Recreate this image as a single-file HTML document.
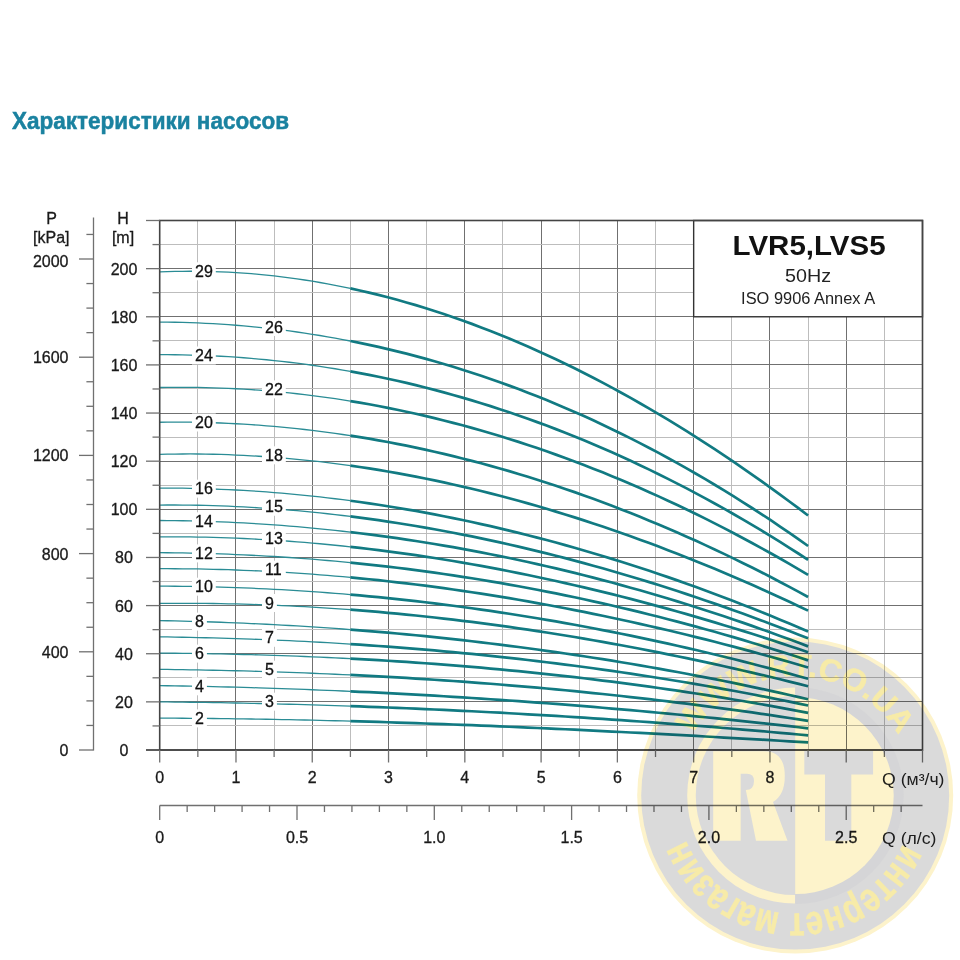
<!DOCTYPE html><html><head><meta charset="utf-8"><style>html,body{margin:0;padding:0;background:#fff;width:960px;height:960px;overflow:hidden}svg{display:block}text{font-family:"Liberation Sans",sans-serif}</style></head><body>
<svg width="960" height="960" viewBox="0 0 960 960">
<rect width="960" height="960" fill="#fff"/>
<text x="12" y="129" font-size="24" font-weight="bold" fill="#1a82a0" stroke="#1a82a0" stroke-width="0.5" textLength="277" lengthAdjust="spacingAndGlyphs">Характеристики насосов</text>
<line x1="197.50" y1="220.50" x2="197.50" y2="750.00" stroke="#bdbdbd" stroke-width="1"/><line x1="235.50" y1="220.50" x2="235.50" y2="750.00" stroke="#707070" stroke-width="1"/><line x1="274.50" y1="220.50" x2="274.50" y2="750.00" stroke="#bdbdbd" stroke-width="1"/><line x1="312.50" y1="220.50" x2="312.50" y2="750.00" stroke="#707070" stroke-width="1"/><line x1="350.50" y1="220.50" x2="350.50" y2="750.00" stroke="#bdbdbd" stroke-width="1"/><line x1="388.50" y1="220.50" x2="388.50" y2="750.00" stroke="#707070" stroke-width="1"/><line x1="426.50" y1="220.50" x2="426.50" y2="750.00" stroke="#bdbdbd" stroke-width="1"/><line x1="464.50" y1="220.50" x2="464.50" y2="750.00" stroke="#707070" stroke-width="1"/><line x1="502.50" y1="220.50" x2="502.50" y2="750.00" stroke="#bdbdbd" stroke-width="1"/><line x1="541.50" y1="220.50" x2="541.50" y2="750.00" stroke="#707070" stroke-width="1"/><line x1="579.50" y1="220.50" x2="579.50" y2="750.00" stroke="#bdbdbd" stroke-width="1"/><line x1="617.50" y1="220.50" x2="617.50" y2="750.00" stroke="#707070" stroke-width="1"/><line x1="655.50" y1="220.50" x2="655.50" y2="750.00" stroke="#bdbdbd" stroke-width="1"/><line x1="693.50" y1="220.50" x2="693.50" y2="750.00" stroke="#707070" stroke-width="1"/><line x1="731.50" y1="220.50" x2="731.50" y2="750.00" stroke="#bdbdbd" stroke-width="1"/><line x1="769.50" y1="220.50" x2="769.50" y2="750.00" stroke="#707070" stroke-width="1"/><line x1="808.50" y1="220.50" x2="808.50" y2="750.00" stroke="#bdbdbd" stroke-width="1"/><line x1="846.50" y1="220.50" x2="846.50" y2="750.00" stroke="#707070" stroke-width="1"/><line x1="884.50" y1="220.50" x2="884.50" y2="750.00" stroke="#bdbdbd" stroke-width="1"/><line x1="159.70" y1="725.50" x2="922.50" y2="725.50" stroke="#bdbdbd" stroke-width="1"/><line x1="159.70" y1="701.50" x2="922.50" y2="701.50" stroke="#707070" stroke-width="1"/><line x1="159.70" y1="677.50" x2="922.50" y2="677.50" stroke="#bdbdbd" stroke-width="1"/><line x1="159.70" y1="653.50" x2="922.50" y2="653.50" stroke="#707070" stroke-width="1"/><line x1="159.70" y1="629.50" x2="922.50" y2="629.50" stroke="#bdbdbd" stroke-width="1"/><line x1="159.70" y1="605.50" x2="922.50" y2="605.50" stroke="#707070" stroke-width="1"/><line x1="159.70" y1="581.50" x2="922.50" y2="581.50" stroke="#bdbdbd" stroke-width="1"/><line x1="159.70" y1="557.50" x2="922.50" y2="557.50" stroke="#707070" stroke-width="1"/><line x1="159.70" y1="533.50" x2="922.50" y2="533.50" stroke="#bdbdbd" stroke-width="1"/><line x1="159.70" y1="509.50" x2="922.50" y2="509.50" stroke="#707070" stroke-width="1"/><line x1="159.70" y1="485.50" x2="922.50" y2="485.50" stroke="#bdbdbd" stroke-width="1"/><line x1="159.70" y1="461.50" x2="922.50" y2="461.50" stroke="#707070" stroke-width="1"/><line x1="159.70" y1="437.50" x2="922.50" y2="437.50" stroke="#bdbdbd" stroke-width="1"/><line x1="159.70" y1="413.50" x2="922.50" y2="413.50" stroke="#707070" stroke-width="1"/><line x1="159.70" y1="388.50" x2="922.50" y2="388.50" stroke="#bdbdbd" stroke-width="1"/><line x1="159.70" y1="364.50" x2="922.50" y2="364.50" stroke="#707070" stroke-width="1"/><line x1="159.70" y1="340.50" x2="922.50" y2="340.50" stroke="#bdbdbd" stroke-width="1"/><line x1="159.70" y1="316.50" x2="922.50" y2="316.50" stroke="#707070" stroke-width="1"/><line x1="159.70" y1="292.50" x2="922.50" y2="292.50" stroke="#bdbdbd" stroke-width="1"/><line x1="159.70" y1="268.50" x2="922.50" y2="268.50" stroke="#707070" stroke-width="1"/><line x1="159.70" y1="244.50" x2="922.50" y2="244.50" stroke="#bdbdbd" stroke-width="1"/>
<rect x="693.66" y="220.50" width="228.84" height="96.27" fill="#fff" stroke="#333" stroke-width="1.4"/>
<text x="809.1" y="255" font-size="28" font-weight="bold" fill="#111" text-anchor="middle" textLength="153" lengthAdjust="spacingAndGlyphs">LVR5,LVS5</text>
<text x="808.1" y="282.3" font-size="18" fill="#222" text-anchor="middle" textLength="46" lengthAdjust="spacingAndGlyphs">50Hz</text>
<text x="808.1" y="304.3" font-size="16" fill="#222" text-anchor="middle" textLength="134" lengthAdjust="spacingAndGlyphs">ISO 9906 Annex A</text>
<path d="M159.70,271.94 L167.33,271.64 L174.96,271.43 L182.58,271.29 L190.21,271.24 L197.84,271.27 L205.47,271.38 L213.10,271.56 L220.72,271.83 L228.35,272.18 L235.98,272.61 L243.61,273.11 L251.24,273.70 L258.86,274.36 L266.49,275.11 L274.12,275.93 L281.75,276.83 L289.38,277.81 L297.00,278.86 L304.63,279.99 L312.26,281.20 L319.89,282.49 L327.52,283.86 L335.14,285.30 L342.77,286.82 L350.40,288.41" fill="none" stroke="#2a8c95" stroke-width="1.3"/><path d="M350.40,288.41 L359.74,290.47 L369.08,292.64 L378.42,294.92 L387.76,297.31 L397.10,299.82 L406.44,302.44 L415.78,305.17 L425.12,308.02 L434.46,310.97 L443.80,314.03 L453.14,317.21 L462.48,320.49 L471.83,323.89 L481.17,327.39 L490.51,331.00 L499.85,334.72 L509.19,338.55 L518.53,342.48 L527.87,346.52 L537.21,350.67 L546.55,354.92 L555.89,359.28 L565.23,363.75 L574.57,368.32 L583.91,372.99 L593.25,377.77 L602.59,382.65 L611.93,387.64 L621.27,392.73 L630.61,397.92 L639.95,403.21 L649.29,408.61 L658.63,414.10 L667.97,419.70 L677.31,425.40 L686.65,431.20 L696.00,437.09 L705.34,443.09 L714.68,449.19 L724.02,455.38 L733.36,461.68 L742.70,468.07 L752.04,474.55 L761.38,481.14 L770.72,487.82 L780.06,494.60 L789.40,501.47 L798.74,508.44 L808.08,515.51" fill="none" stroke="#117a82" stroke-width="2.7"/><path d="M159.70,322.04 L167.33,322.11 L174.96,322.23 L182.58,322.40 L190.21,322.64 L197.84,322.93 L205.47,323.28 L213.10,323.68 L220.72,324.15 L228.35,324.67 L235.98,325.25 L243.61,325.89 L251.24,326.58 L258.86,327.34 L266.49,328.15 L274.12,329.02 L281.75,329.95 L289.38,330.94 L297.00,331.99 L304.63,333.10 L312.26,334.27 L319.89,335.50 L327.52,336.79 L335.14,338.14 L342.77,339.54 L350.40,341.01" fill="none" stroke="#2a8c95" stroke-width="1.3"/><path d="M350.40,341.01 L359.74,342.89 L369.08,344.87 L378.42,346.93 L387.76,349.09 L397.10,351.34 L406.44,353.68 L415.78,356.11 L425.12,358.64 L434.46,361.26 L443.80,363.97 L453.14,366.78 L462.48,369.68 L471.83,372.67 L481.17,375.76 L490.51,378.95 L499.85,382.23 L509.19,385.61 L518.53,389.08 L527.87,392.65 L537.21,396.31 L546.55,400.08 L555.89,403.94 L565.23,407.89 L574.57,411.95 L583.91,416.10 L593.25,420.35 L602.59,424.71 L611.93,429.16 L621.27,433.70 L630.61,438.35 L639.95,443.10 L649.29,447.95 L658.63,452.90 L667.97,457.95 L677.31,463.10 L686.65,468.35 L696.00,473.71 L705.34,479.17 L714.68,484.72 L724.02,490.39 L733.36,496.15 L742.70,502.02 L752.04,507.99 L761.38,514.07 L770.72,520.24 L780.06,526.53 L789.40,532.92 L798.74,539.41 L808.08,546.01" fill="none" stroke="#117a82" stroke-width="2.7"/><path d="M159.70,354.67 L167.33,354.68 L174.96,354.75 L182.58,354.86 L190.21,355.04 L197.84,355.26 L205.47,355.54 L213.10,355.88 L220.72,356.27 L228.35,356.71 L235.98,357.21 L243.61,357.77 L251.24,358.38 L258.86,359.04 L266.49,359.76 L274.12,360.54 L281.75,361.37 L289.38,362.26 L297.00,363.20 L304.63,364.20 L312.26,365.25 L319.89,366.36 L327.52,367.53 L335.14,368.75 L342.77,370.03 L350.40,371.37" fill="none" stroke="#2a8c95" stroke-width="1.3"/><path d="M350.40,371.37 L359.74,373.08 L369.08,374.88 L378.42,376.77 L387.76,378.74 L397.10,380.80 L406.44,382.94 L415.78,385.17 L425.12,387.48 L434.46,389.89 L443.80,392.38 L453.14,394.95 L462.48,397.62 L471.83,400.37 L481.17,403.21 L490.51,406.14 L499.85,409.16 L509.19,412.26 L518.53,415.46 L527.87,418.74 L537.21,422.12 L546.55,425.58 L555.89,429.13 L565.23,432.78 L574.57,436.51 L583.91,440.33 L593.25,444.25 L602.59,448.25 L611.93,452.35 L621.27,456.53 L630.61,460.81 L639.95,465.18 L649.29,469.65 L658.63,474.20 L667.97,478.85 L677.31,483.59 L686.65,488.42 L696.00,493.35 L705.34,498.37 L714.68,503.48 L724.02,508.69 L733.36,513.99 L742.70,519.38 L752.04,524.87 L761.38,530.46 L770.72,536.13 L780.06,541.91 L789.40,547.78 L798.74,553.74 L808.08,559.80" fill="none" stroke="#117a82" stroke-width="2.7"/><path d="M159.70,387.51 L167.33,387.38 L174.96,387.31 L182.58,387.29 L190.21,387.33 L197.84,387.43 L205.47,387.58 L213.10,387.79 L220.72,388.05 L228.35,388.37 L235.98,388.75 L243.61,389.18 L251.24,389.67 L258.86,390.21 L266.49,390.81 L274.12,391.47 L281.75,392.18 L289.38,392.95 L297.00,393.77 L304.63,394.65 L312.26,395.58 L319.89,396.57 L327.52,397.62 L335.14,398.72 L342.77,399.88 L350.40,401.09" fill="none" stroke="#2a8c95" stroke-width="1.3"/><path d="M350.40,401.09 L359.74,402.65 L369.08,404.29 L378.42,406.02 L387.76,407.83 L397.10,409.72 L406.44,411.70 L415.78,413.76 L425.12,415.90 L434.46,418.13 L443.80,420.44 L453.14,422.83 L462.48,425.30 L471.83,427.86 L481.17,430.50 L490.51,433.23 L499.85,436.03 L509.19,438.92 L518.53,441.89 L527.87,444.95 L537.21,448.09 L546.55,451.31 L555.89,454.61 L565.23,457.99 L574.57,461.46 L583.91,465.01 L593.25,468.64 L602.59,472.36 L611.93,476.15 L621.27,480.03 L630.61,484.00 L639.95,488.04 L649.29,492.17 L658.63,496.37 L667.97,500.67 L677.31,505.04 L686.65,509.49 L696.00,514.03 L705.34,518.65 L714.68,523.35 L724.02,528.13 L733.36,533.00 L742.70,537.94 L752.04,542.97 L761.38,548.08 L770.72,553.27 L780.06,558.55 L789.40,563.90 L798.74,569.34 L808.08,574.86" fill="none" stroke="#117a82" stroke-width="2.7"/><path d="M159.70,422.23 L167.33,422.15 L174.96,422.12 L182.58,422.14 L190.21,422.21 L197.84,422.34 L205.47,422.51 L213.10,422.74 L220.72,423.02 L228.35,423.35 L235.98,423.73 L243.61,424.17 L251.24,424.65 L258.86,425.19 L266.49,425.78 L274.12,426.42 L281.75,427.11 L289.38,427.86 L297.00,428.65 L304.63,429.50 L312.26,430.39 L319.89,431.34 L327.52,432.34 L335.14,433.39 L342.77,434.49 L350.40,435.64" fill="none" stroke="#2a8c95" stroke-width="1.3"/><path d="M350.40,435.64 L359.74,437.12 L369.08,438.68 L378.42,440.31 L387.76,442.02 L397.10,443.81 L406.44,445.67 L415.78,447.61 L425.12,449.62 L434.46,451.72 L443.80,453.88 L453.14,456.12 L462.48,458.44 L471.83,460.84 L481.17,463.31 L490.51,465.85 L499.85,468.47 L509.19,471.17 L518.53,473.94 L527.87,476.79 L537.21,479.71 L546.55,482.71 L555.89,485.78 L565.23,488.93 L574.57,492.15 L583.91,495.45 L593.25,498.82 L602.59,502.27 L611.93,505.79 L621.27,509.39 L630.61,513.06 L639.95,516.81 L649.29,520.63 L658.63,524.53 L667.97,528.50 L677.31,532.54 L686.65,536.66 L696.00,540.85 L705.34,545.12 L714.68,549.46 L724.02,553.88 L733.36,558.37 L742.70,562.93 L752.04,567.57 L761.38,572.28 L770.72,577.07 L780.06,581.93 L789.40,586.86 L798.74,591.87 L808.08,596.95" fill="none" stroke="#117a82" stroke-width="2.7"/><path d="M159.70,454.31 L167.33,454.15 L174.96,454.04 L182.58,453.98 L190.21,453.97 L197.84,454.02 L205.47,454.12 L213.10,454.27 L220.72,454.47 L228.35,454.72 L235.98,455.03 L243.61,455.38 L251.24,455.79 L258.86,456.25 L266.49,456.76 L274.12,457.32 L281.75,457.93 L289.38,458.58 L297.00,459.29 L304.63,460.05 L312.26,460.86 L319.89,461.72 L327.52,462.62 L335.14,463.58 L342.77,464.58 L350.40,465.64" fill="none" stroke="#2a8c95" stroke-width="1.3"/><path d="M350.40,465.64 L359.74,466.99 L369.08,468.42 L378.42,469.92 L387.76,471.49 L397.10,473.13 L406.44,474.84 L415.78,476.63 L425.12,478.48 L434.46,480.40 L443.80,482.40 L453.14,484.46 L462.48,486.59 L471.83,488.79 L481.17,491.05 L490.51,493.39 L499.85,495.79 L509.19,498.26 L518.53,500.79 L527.87,503.40 L537.21,506.06 L546.55,508.80 L555.89,511.60 L565.23,514.46 L574.57,517.39 L583.91,520.38 L593.25,523.44 L602.59,526.56 L611.93,529.74 L621.27,532.99 L630.61,536.30 L639.95,539.67 L649.29,543.10 L658.63,546.60 L667.97,550.16 L677.31,553.77 L686.65,557.45 L696.00,561.19 L705.34,564.99 L714.68,568.84 L724.02,572.76 L733.36,576.74 L742.70,580.77 L752.04,584.86 L761.38,589.01 L770.72,593.22 L780.06,597.49 L789.40,601.81 L798.74,606.18 L808.08,610.62" fill="none" stroke="#117a82" stroke-width="2.7"/><path d="M159.70,488.03 L167.33,488.04 L174.96,488.09 L182.58,488.18 L190.21,488.32 L197.84,488.50 L205.47,488.72 L213.10,488.98 L220.72,489.28 L228.35,489.62 L235.98,490.01 L243.61,490.44 L251.24,490.90 L258.86,491.41 L266.49,491.97 L274.12,492.56 L281.75,493.19 L289.38,493.87 L297.00,494.58 L304.63,495.34 L312.26,496.14 L319.89,496.97 L327.52,497.85 L335.14,498.77 L342.77,499.73 L350.40,500.73" fill="none" stroke="#2a8c95" stroke-width="1.3"/><path d="M350.40,500.73 L359.74,502.01 L369.08,503.35 L378.42,504.75 L387.76,506.21 L397.10,507.73 L406.44,509.31 L415.78,510.95 L425.12,512.64 L434.46,514.40 L443.80,516.22 L453.14,518.09 L462.48,520.03 L471.83,522.02 L481.17,524.07 L490.51,526.18 L499.85,528.35 L509.19,530.57 L518.53,532.86 L527.87,535.20 L537.21,537.60 L546.55,540.05 L555.89,542.57 L565.23,545.14 L574.57,547.76 L583.91,550.45 L593.25,553.19 L602.59,555.99 L611.93,558.84 L621.27,561.75 L630.61,564.72 L639.95,567.74 L649.29,570.82 L658.63,573.96 L667.97,577.15 L677.31,580.39 L686.65,583.69 L696.00,587.05 L705.34,590.46 L714.68,593.92 L724.02,597.44 L733.36,601.01 L742.70,604.64 L752.04,608.33 L761.38,612.06 L770.72,615.85 L780.06,619.70 L789.40,623.59 L798.74,627.55 L808.08,631.55" fill="none" stroke="#117a82" stroke-width="2.7"/><path d="M159.70,505.03 L167.33,505.00 L174.96,505.00 L182.58,505.05 L190.21,505.14 L197.84,505.27 L205.47,505.44 L213.10,505.66 L220.72,505.91 L228.35,506.21 L235.98,506.54 L243.61,506.92 L251.24,507.34 L258.86,507.80 L266.49,508.30 L274.12,508.84 L281.75,509.42 L289.38,510.04 L297.00,510.70 L304.63,511.40 L312.26,512.14 L319.89,512.92 L327.52,513.74 L335.14,514.60 L342.77,515.49 L350.40,516.43" fill="none" stroke="#2a8c95" stroke-width="1.3"/><path d="M350.40,516.43 L359.74,517.63 L369.08,518.88 L378.42,520.20 L387.76,521.57 L397.10,523.00 L406.44,524.48 L415.78,526.02 L425.12,527.62 L434.46,529.27 L443.80,530.98 L453.14,532.75 L462.48,534.57 L471.83,536.44 L481.17,538.37 L490.51,540.36 L499.85,542.39 L509.19,544.49 L518.53,546.63 L527.87,548.83 L537.21,551.08 L546.55,553.39 L555.89,555.75 L565.23,558.16 L574.57,560.62 L583.91,563.13 L593.25,565.70 L602.59,568.32 L611.93,570.98 L621.27,573.70 L630.61,576.47 L639.95,579.29 L649.29,582.16 L658.63,585.08 L667.97,588.05 L677.31,591.07 L686.65,594.14 L696.00,597.25 L705.34,600.42 L714.68,603.63 L724.02,606.89 L733.36,610.20 L742.70,613.55 L752.04,616.96 L761.38,620.41 L770.72,623.90 L780.06,627.45 L789.40,631.04 L798.74,634.67 L808.08,638.35" fill="none" stroke="#117a82" stroke-width="2.7"/><path d="M159.70,520.48 L167.33,520.53 L174.96,520.62 L182.58,520.75 L190.21,520.91 L197.84,521.10 L205.47,521.32 L213.10,521.59 L220.72,521.88 L228.35,522.21 L235.98,522.57 L243.61,522.97 L251.24,523.40 L258.86,523.87 L266.49,524.37 L274.12,524.90 L281.75,525.47 L289.38,526.07 L297.00,526.71 L304.63,527.38 L312.26,528.08 L319.89,528.82 L327.52,529.59 L335.14,530.40 L342.77,531.24 L350.40,532.11" fill="none" stroke="#2a8c95" stroke-width="1.3"/><path d="M350.40,532.11 L359.74,533.23 L369.08,534.40 L378.42,535.61 L387.76,536.88 L397.10,538.20 L406.44,539.57 L415.78,541.00 L425.12,542.47 L434.46,543.99 L443.80,545.57 L453.14,547.19 L462.48,548.87 L471.83,550.59 L481.17,552.37 L490.51,554.20 L499.85,556.08 L509.19,558.01 L518.53,559.99 L527.87,562.02 L537.21,564.10 L546.55,566.23 L555.89,568.41 L565.23,570.64 L574.57,572.93 L583.91,575.26 L593.25,577.65 L602.59,580.08 L611.93,582.56 L621.27,585.10 L630.61,587.69 L639.95,590.32 L649.29,593.01 L658.63,595.75 L667.97,598.53 L677.31,601.37 L686.65,604.26 L696.00,607.20 L705.34,610.18 L714.68,613.22 L724.02,616.31 L733.36,619.45 L742.70,622.64 L752.04,625.88 L761.38,629.17 L770.72,632.51 L780.06,635.90 L789.40,639.34 L798.74,642.83 L808.08,646.37" fill="none" stroke="#117a82" stroke-width="2.7"/><path d="M159.70,536.81 L167.33,536.79 L174.96,536.79 L182.58,536.84 L190.21,536.92 L197.84,537.04 L205.47,537.19 L213.10,537.38 L220.72,537.61 L228.35,537.87 L235.98,538.17 L243.61,538.50 L251.24,538.87 L258.86,539.28 L266.49,539.72 L274.12,540.19 L281.75,540.70 L289.38,541.24 L297.00,541.82 L304.63,542.43 L312.26,543.08 L319.89,543.76 L327.52,544.48 L335.14,545.23 L342.77,546.01 L350.40,546.83" fill="none" stroke="#2a8c95" stroke-width="1.3"/><path d="M350.40,546.83 L359.74,547.87 L369.08,548.97 L378.42,550.12 L387.76,551.31 L397.10,552.55 L406.44,553.85 L415.78,555.19 L425.12,556.58 L434.46,558.02 L443.80,559.51 L453.14,561.04 L462.48,562.62 L471.83,564.25 L481.17,565.93 L490.51,567.65 L499.85,569.42 L509.19,571.24 L518.53,573.10 L527.87,575.00 L537.21,576.96 L546.55,578.95 L555.89,581.00 L565.23,583.08 L574.57,585.22 L583.91,587.39 L593.25,589.61 L602.59,591.88 L611.93,594.18 L621.27,596.53 L630.61,598.93 L639.95,601.36 L649.29,603.84 L658.63,606.36 L667.97,608.92 L677.31,611.53 L686.65,614.17 L696.00,616.86 L705.34,619.59 L714.68,622.36 L724.02,625.17 L733.36,628.01 L742.70,630.90 L752.04,633.83 L761.38,636.80 L770.72,639.81 L780.06,642.85 L789.40,645.94 L798.74,649.06 L808.08,652.22" fill="none" stroke="#117a82" stroke-width="2.7"/><path d="M159.70,552.70 L167.33,552.75 L174.96,552.84 L182.58,552.95 L190.21,553.09 L197.84,553.26 L205.47,553.45 L213.10,553.68 L220.72,553.93 L228.35,554.22 L235.98,554.53 L243.61,554.87 L251.24,555.23 L258.86,555.63 L266.49,556.05 L274.12,556.51 L281.75,556.99 L289.38,557.50 L297.00,558.04 L304.63,558.61 L312.26,559.20 L319.89,559.83 L327.52,560.48 L335.14,561.16 L342.77,561.87 L350.40,562.61" fill="none" stroke="#2a8c95" stroke-width="1.3"/><path d="M350.40,562.61 L359.74,563.56 L369.08,564.55 L378.42,565.58 L387.76,566.65 L397.10,567.77 L406.44,568.93 L415.78,570.14 L425.12,571.38 L434.46,572.68 L443.80,574.01 L453.14,575.39 L462.48,576.81 L471.83,578.28 L481.17,579.79 L490.51,581.34 L499.85,582.94 L509.19,584.58 L518.53,586.26 L527.87,587.99 L537.21,589.76 L546.55,591.58 L555.89,593.44 L565.23,595.34 L574.57,597.29 L583.91,599.28 L593.25,601.31 L602.59,603.39 L611.93,605.52 L621.27,607.69 L630.61,609.90 L639.95,612.16 L649.29,614.46 L658.63,616.80 L667.97,619.19 L677.31,621.63 L686.65,624.11 L696.00,626.63 L705.34,629.20 L714.68,631.81 L724.02,634.47 L733.36,637.17 L742.70,639.92 L752.04,642.71 L761.38,645.54 L770.72,648.42 L780.06,651.35 L789.40,654.32 L798.74,657.34 L808.08,660.40" fill="none" stroke="#117a82" stroke-width="2.7"/><path d="M159.70,568.72 L167.33,568.71 L174.96,568.73 L182.58,568.78 L190.21,568.86 L197.84,568.97 L205.47,569.12 L213.10,569.29 L220.72,569.49 L228.35,569.72 L235.98,569.98 L243.61,570.28 L251.24,570.60 L258.86,570.95 L266.49,571.33 L274.12,571.74 L281.75,572.17 L289.38,572.64 L297.00,573.14 L304.63,573.66 L312.26,574.22 L319.89,574.80 L327.52,575.41 L335.14,576.05 L342.77,576.72 L350.40,577.41" fill="none" stroke="#2a8c95" stroke-width="1.3"/><path d="M350.40,577.41 L359.74,578.31 L369.08,579.24 L378.42,580.21 L387.76,581.23 L397.10,582.29 L406.44,583.39 L415.78,584.53 L425.12,585.71 L434.46,586.94 L443.80,588.20 L453.14,589.51 L462.48,590.85 L471.83,592.24 L481.17,593.66 L490.51,595.13 L499.85,596.63 L509.19,598.18 L518.53,599.76 L527.87,601.38 L537.21,603.05 L546.55,604.75 L555.89,606.49 L565.23,608.26 L574.57,610.08 L583.91,611.94 L593.25,613.83 L602.59,615.76 L611.93,617.73 L621.27,619.73 L630.61,621.77 L639.95,623.85 L649.29,625.97 L658.63,628.12 L667.97,630.31 L677.31,632.54 L686.65,634.80 L696.00,637.10 L705.34,639.43 L714.68,641.80 L724.02,644.21 L733.36,646.65 L742.70,649.12 L752.04,651.64 L761.38,654.18 L770.72,656.76 L780.06,659.38 L789.40,662.03 L798.74,664.71 L808.08,667.43" fill="none" stroke="#117a82" stroke-width="2.7"/><path d="M159.70,586.14 L167.33,586.17 L174.96,586.23 L182.58,586.31 L190.21,586.41 L197.84,586.54 L205.47,586.70 L213.10,586.89 L220.72,587.10 L228.35,587.33 L235.98,587.60 L243.61,587.88 L251.24,588.20 L258.86,588.53 L266.49,588.90 L274.12,589.29 L281.75,589.71 L289.38,590.15 L297.00,590.61 L304.63,591.11 L312.26,591.63 L319.89,592.17 L327.52,592.74 L335.14,593.33 L342.77,593.95 L350.40,594.60" fill="none" stroke="#2a8c95" stroke-width="1.3"/><path d="M350.40,594.60 L359.74,595.42 L369.08,596.29 L378.42,597.19 L387.76,598.13 L397.10,599.10 L406.44,600.12 L415.78,601.17 L425.12,602.26 L434.46,603.39 L443.80,604.55 L453.14,605.76 L462.48,607.00 L471.83,608.27 L481.17,609.59 L490.51,610.94 L499.85,612.33 L509.19,613.76 L518.53,615.22 L527.87,616.72 L537.21,618.26 L546.55,619.84 L555.89,621.45 L565.23,623.10 L574.57,624.79 L583.91,626.51 L593.25,628.27 L602.59,630.07 L611.93,631.90 L621.27,633.77 L630.61,635.68 L639.95,637.62 L649.29,639.60 L658.63,641.62 L667.97,643.67 L677.31,645.76 L686.65,647.89 L696.00,650.05 L705.34,652.25 L714.68,654.49 L724.02,656.76 L733.36,659.06 L742.70,661.41 L752.04,663.78 L761.38,666.20 L770.72,668.65 L780.06,671.14 L789.40,673.66 L798.74,676.22 L808.08,678.81" fill="none" stroke="#117a82" stroke-width="2.7"/><path d="M159.70,603.40 L167.33,603.34 L174.96,603.30 L182.58,603.29 L190.21,603.30 L197.84,603.35 L205.47,603.41 L213.10,603.51 L220.72,603.63 L228.35,603.78 L235.98,603.96 L243.61,604.16 L251.24,604.38 L258.86,604.64 L266.49,604.92 L274.12,605.22 L281.75,605.56 L289.38,605.91 L297.00,606.30 L304.63,606.71 L312.26,607.14 L319.89,607.60 L327.52,608.09 L335.14,608.60 L342.77,609.13 L350.40,609.69" fill="none" stroke="#2a8c95" stroke-width="1.3"/><path d="M350.40,609.69 L359.74,610.42 L369.08,611.17 L378.42,611.97 L387.76,612.80 L397.10,613.67 L406.44,614.58 L415.78,615.53 L425.12,616.51 L434.46,617.52 L443.80,618.58 L453.14,619.67 L462.48,620.79 L471.83,621.95 L481.17,623.15 L490.51,624.38 L499.85,625.65 L509.19,626.95 L518.53,628.29 L527.87,629.66 L537.21,631.06 L546.55,632.51 L555.89,633.98 L565.23,635.49 L574.57,637.04 L583.91,638.61 L593.25,640.22 L602.59,641.87 L611.93,643.55 L621.27,645.26 L630.61,647.01 L639.95,648.78 L649.29,650.59 L658.63,652.44 L667.97,654.31 L677.31,656.22 L686.65,658.16 L696.00,660.14 L705.34,662.14 L714.68,664.18 L724.02,666.25 L733.36,668.35 L742.70,670.48 L752.04,672.64 L761.38,674.83 L770.72,677.05 L780.06,679.31 L789.40,681.59 L798.74,683.91 L808.08,686.25" fill="none" stroke="#117a82" stroke-width="2.7"/><path d="M159.70,620.60 L167.33,620.75 L174.96,620.91 L182.58,621.10 L190.21,621.30 L197.84,621.52 L205.47,621.75 L213.10,622.00 L220.72,622.27 L228.35,622.56 L235.98,622.87 L243.61,623.19 L251.24,623.53 L258.86,623.89 L266.49,624.27 L274.12,624.66 L281.75,625.07 L289.38,625.50 L297.00,625.95 L304.63,626.42 L312.26,626.90 L319.89,627.40 L327.52,627.92 L335.14,628.46 L342.77,629.02 L350.40,629.60" fill="none" stroke="#2a8c95" stroke-width="1.3"/><path d="M350.40,629.60 L359.74,630.32 L369.08,631.08 L378.42,631.87 L387.76,632.68 L397.10,633.52 L406.44,634.39 L415.78,635.28 L425.12,636.21 L434.46,637.16 L443.80,638.14 L453.14,639.15 L462.48,640.18 L471.83,641.25 L481.17,642.34 L490.51,643.47 L499.85,644.62 L509.19,645.80 L518.53,647.01 L527.87,648.24 L537.21,649.51 L546.55,650.81 L555.89,652.13 L565.23,653.48 L574.57,654.87 L583.91,656.28 L593.25,657.72 L602.59,659.19 L611.93,660.70 L621.27,662.23 L630.61,663.79 L639.95,665.38 L649.29,667.00 L658.63,668.65 L667.97,670.33 L677.31,672.04 L686.65,673.78 L696.00,675.55 L705.34,677.35 L714.68,679.19 L724.02,681.05 L733.36,682.94 L742.70,684.87 L752.04,686.82 L761.38,688.81 L770.72,690.82 L780.06,692.87 L789.40,694.95 L798.74,697.06 L808.08,699.20" fill="none" stroke="#117a82" stroke-width="2.7"/><path d="M159.70,636.86 L167.33,636.97 L174.96,637.09 L182.58,637.23 L190.21,637.38 L197.84,637.55 L205.47,637.73 L213.10,637.92 L220.72,638.13 L228.35,638.36 L235.98,638.60 L243.61,638.86 L251.24,639.13 L258.86,639.42 L266.49,639.72 L274.12,640.04 L281.75,640.37 L289.38,640.72 L297.00,641.08 L304.63,641.46 L312.26,641.86 L319.89,642.27 L327.52,642.70 L335.14,643.15 L342.77,643.61 L350.40,644.09" fill="none" stroke="#2a8c95" stroke-width="1.3"/><path d="M350.40,644.09 L359.74,644.69 L369.08,645.33 L378.42,645.98 L387.76,646.67 L397.10,647.37 L406.44,648.10 L415.78,648.86 L425.12,649.65 L434.46,650.45 L443.80,651.29 L453.14,652.15 L462.48,653.04 L471.83,653.95 L481.17,654.89 L490.51,655.86 L499.85,656.85 L509.19,657.87 L518.53,658.92 L527.87,659.99 L537.21,661.09 L546.55,662.22 L555.89,663.38 L565.23,664.56 L574.57,665.77 L583.91,667.01 L593.25,668.28 L602.59,669.58 L611.93,670.90 L621.27,672.26 L630.61,673.64 L639.95,675.05 L649.29,676.49 L658.63,677.96 L667.97,679.46 L677.31,680.99 L686.65,682.54 L696.00,684.13 L705.34,685.75 L714.68,687.39 L724.02,689.07 L733.36,690.78 L742.70,692.52 L752.04,694.28 L761.38,696.08 L770.72,697.91 L780.06,699.77 L789.40,701.67 L798.74,703.59 L808.08,705.54" fill="none" stroke="#117a82" stroke-width="2.7"/><path d="M159.70,653.14 L167.33,653.19 L174.96,653.26 L182.58,653.34 L190.21,653.44 L197.84,653.55 L205.47,653.67 L213.10,653.81 L220.72,653.95 L228.35,654.12 L235.98,654.29 L243.61,654.48 L251.24,654.68 L258.86,654.90 L266.49,655.13 L274.12,655.38 L281.75,655.64 L289.38,655.91 L297.00,656.20 L304.63,656.50 L312.26,656.81 L319.89,657.15 L327.52,657.49 L335.14,657.85 L342.77,658.23 L350.40,658.62" fill="none" stroke="#2a8c95" stroke-width="1.3"/><path d="M350.40,658.62 L359.74,659.12 L369.08,659.64 L378.42,660.18 L387.76,660.75 L397.10,661.34 L406.44,661.95 L415.78,662.59 L425.12,663.25 L434.46,663.94 L443.80,664.64 L453.14,665.38 L462.48,666.14 L471.83,666.92 L481.17,667.72 L490.51,668.56 L499.85,669.41 L509.19,670.30 L518.53,671.20 L527.87,672.14 L537.21,673.09 L546.55,674.08 L555.89,675.09 L565.23,676.13 L574.57,677.19 L583.91,678.28 L593.25,679.40 L602.59,680.54 L611.93,681.71 L621.27,682.91 L630.61,684.14 L639.95,685.39 L649.29,686.67 L658.63,687.98 L667.97,689.32 L677.31,690.68 L686.65,692.07 L696.00,693.50 L705.34,694.95 L714.68,696.43 L724.02,697.94 L733.36,699.47 L742.70,701.04 L752.04,702.64 L761.38,704.27 L770.72,705.92 L780.06,707.61 L789.40,709.33 L798.74,711.08 L808.08,712.85" fill="none" stroke="#117a82" stroke-width="2.7"/><path d="M159.70,669.37 L167.33,669.46 L174.96,669.56 L182.58,669.68 L190.21,669.80 L197.84,669.93 L205.47,670.07 L213.10,670.23 L220.72,670.39 L228.35,670.57 L235.98,670.76 L243.61,670.96 L251.24,671.17 L258.86,671.39 L266.49,671.62 L274.12,671.86 L281.75,672.12 L289.38,672.38 L297.00,672.66 L304.63,672.95 L312.26,673.25 L319.89,673.57 L327.52,673.89 L335.14,674.23 L342.77,674.58 L350.40,674.94" fill="none" stroke="#2a8c95" stroke-width="1.3"/><path d="M350.40,674.94 L359.74,675.40 L369.08,675.87 L378.42,676.37 L387.76,676.88 L397.10,677.41 L406.44,677.96 L415.78,678.53 L425.12,679.12 L434.46,679.73 L443.80,680.35 L453.14,681.00 L462.48,681.66 L471.83,682.35 L481.17,683.05 L490.51,683.77 L499.85,684.52 L509.19,685.28 L518.53,686.06 L527.87,686.86 L537.21,687.69 L546.55,688.53 L555.89,689.39 L565.23,690.28 L574.57,691.18 L583.91,692.11 L593.25,693.06 L602.59,694.02 L611.93,695.01 L621.27,696.02 L630.61,697.05 L639.95,698.11 L649.29,699.18 L658.63,700.28 L667.97,701.40 L677.31,702.54 L686.65,703.70 L696.00,704.88 L705.34,706.09 L714.68,707.32 L724.02,708.57 L733.36,709.84 L742.70,711.14 L752.04,712.46 L761.38,713.80 L770.72,715.17 L780.06,716.55 L789.40,717.97 L798.74,719.40 L808.08,720.86" fill="none" stroke="#117a82" stroke-width="2.7"/><path d="M159.70,685.61 L167.33,685.73 L174.96,685.85 L182.58,685.99 L190.21,686.13 L197.84,686.29 L205.47,686.45 L213.10,686.63 L220.72,686.81 L228.35,687.00 L235.98,687.20 L243.61,687.41 L251.24,687.64 L258.86,687.87 L266.49,688.10 L274.12,688.35 L281.75,688.61 L289.38,688.88 L297.00,689.15 L304.63,689.44 L312.26,689.73 L319.89,690.04 L327.52,690.35 L335.14,690.67 L342.77,691.01 L350.40,691.35" fill="none" stroke="#2a8c95" stroke-width="1.3"/><path d="M350.40,691.35 L359.74,691.78 L369.08,692.22 L378.42,692.68 L387.76,693.15 L397.10,693.64 L406.44,694.13 L415.78,694.65 L425.12,695.17 L434.46,695.71 L443.80,696.27 L453.14,696.83 L462.48,697.41 L471.83,698.01 L481.17,698.62 L490.51,699.24 L499.85,699.87 L509.19,700.52 L518.53,701.19 L527.87,701.86 L537.21,702.55 L546.55,703.25 L555.89,703.97 L565.23,704.70 L574.57,705.44 L583.91,706.20 L593.25,706.97 L602.59,707.75 L611.93,708.55 L621.27,709.36 L630.61,710.18 L639.95,711.02 L649.29,711.86 L658.63,712.73 L667.97,713.60 L677.31,714.49 L686.65,715.39 L696.00,716.31 L705.34,717.24 L714.68,718.18 L724.02,719.14 L733.36,720.10 L742.70,721.08 L752.04,722.08 L761.38,723.09 L770.72,724.11 L780.06,725.14 L789.40,726.18 L798.74,727.24 L808.08,728.32" fill="none" stroke="#117a82" stroke-width="2.7"/><path d="M159.70,701.88 L167.33,701.96 L174.96,702.04 L182.58,702.14 L190.21,702.24 L197.84,702.35 L205.47,702.47 L213.10,702.59 L220.72,702.72 L228.35,702.86 L235.98,703.01 L243.61,703.17 L251.24,703.33 L258.86,703.50 L266.49,703.68 L274.12,703.86 L281.75,704.05 L289.38,704.25 L297.00,704.46 L304.63,704.68 L312.26,704.90 L319.89,705.13 L327.52,705.37 L335.14,705.61 L342.77,705.86 L350.40,706.12" fill="none" stroke="#2a8c95" stroke-width="1.3"/><path d="M350.40,706.12 L359.74,706.45 L369.08,706.79 L378.42,707.14 L387.76,707.51 L397.10,707.88 L406.44,708.26 L415.78,708.66 L425.12,709.07 L434.46,709.48 L443.80,709.91 L453.14,710.35 L462.48,710.81 L471.83,711.27 L481.17,711.74 L490.51,712.23 L499.85,712.72 L509.19,713.23 L518.53,713.75 L527.87,714.28 L537.21,714.82 L546.55,715.37 L555.89,715.94 L565.23,716.51 L574.57,717.10 L583.91,717.70 L593.25,718.30 L602.59,718.92 L611.93,719.55 L621.27,720.20 L630.61,720.85 L639.95,721.51 L649.29,722.19 L658.63,722.87 L667.97,723.57 L677.31,724.28 L686.65,725.00 L696.00,725.73 L705.34,726.47 L714.68,727.22 L724.02,727.99 L733.36,728.76 L742.70,729.55 L752.04,730.35 L761.38,731.15 L770.72,731.97 L780.06,732.81 L789.40,733.65 L798.74,734.50 L808.08,735.36" fill="none" stroke="#117a82" stroke-width="2.7"/><path d="M159.70,718.15 L167.33,718.18 L174.96,718.22 L182.58,718.26 L190.21,718.31 L197.84,718.37 L205.47,718.44 L213.10,718.52 L220.72,718.60 L228.35,718.69 L235.98,718.79 L243.61,718.90 L251.24,719.01 L258.86,719.14 L266.49,719.26 L274.12,719.40 L281.75,719.54 L289.38,719.70 L297.00,719.85 L304.63,720.02 L312.26,720.19 L319.89,720.37 L327.52,720.55 L335.14,720.74 L342.77,720.94 L350.40,721.15" fill="none" stroke="#2a8c95" stroke-width="1.3"/><path d="M350.40,721.15 L359.74,721.41 L369.08,721.68 L378.42,721.95 L387.76,722.24 L397.10,722.54 L406.44,722.84 L415.78,723.16 L425.12,723.48 L434.46,723.81 L443.80,724.15 L453.14,724.50 L462.48,724.86 L471.83,725.22 L481.17,725.59 L490.51,725.97 L499.85,726.36 L509.19,726.75 L518.53,727.15 L527.87,727.56 L537.21,727.98 L546.55,728.40 L555.89,728.83 L565.23,729.26 L574.57,729.71 L583.91,730.16 L593.25,730.61 L602.59,731.07 L611.93,731.54 L621.27,732.01 L630.61,732.49 L639.95,732.97 L649.29,733.46 L658.63,733.95 L667.97,734.45 L677.31,734.95 L686.65,735.46 L696.00,735.97 L705.34,736.49 L714.68,737.01 L724.02,737.54 L733.36,738.06 L742.70,738.60 L752.04,739.13 L761.38,739.68 L770.72,740.22 L780.06,740.77 L789.40,741.32 L798.74,741.87 L808.08,742.43" fill="none" stroke="#117a82" stroke-width="2.7"/>
<rect x="192.0" y="262.3" width="23.8" height="18" fill="#fff"/><text x="195.0" y="276.9" font-size="16" fill="#111" stroke="#111" stroke-width="0.3">29</text><rect x="262.0" y="318.0" width="23.8" height="18" fill="#fff"/><text x="265.0" y="332.6" font-size="16" fill="#111" stroke="#111" stroke-width="0.3">26</text><rect x="192.0" y="346.5" width="23.8" height="18" fill="#fff"/><text x="195.0" y="361.1" font-size="16" fill="#111" stroke="#111" stroke-width="0.3">24</text><rect x="262.0" y="380.4" width="23.8" height="18" fill="#fff"/><text x="265.0" y="395.0" font-size="16" fill="#111" stroke="#111" stroke-width="0.3">22</text><rect x="192.0" y="413.5" width="23.8" height="18" fill="#fff"/><text x="195.0" y="428.1" font-size="16" fill="#111" stroke="#111" stroke-width="0.3">20</text><rect x="262.0" y="446.3" width="23.8" height="18" fill="#fff"/><text x="265.0" y="460.9" font-size="16" fill="#111" stroke="#111" stroke-width="0.3">18</text><rect x="192.0" y="479.7" width="23.8" height="18" fill="#fff"/><text x="195.0" y="494.3" font-size="16" fill="#111" stroke="#111" stroke-width="0.3">16</text><rect x="262.0" y="497.8" width="23.8" height="18" fill="#fff"/><text x="265.0" y="512.4" font-size="16" fill="#111" stroke="#111" stroke-width="0.3">15</text><rect x="192.0" y="512.3" width="23.8" height="18" fill="#fff"/><text x="195.0" y="526.9" font-size="16" fill="#111" stroke="#111" stroke-width="0.3">14</text><rect x="262.0" y="529.2" width="23.8" height="18" fill="#fff"/><text x="265.0" y="543.8" font-size="16" fill="#111" stroke="#111" stroke-width="0.3">13</text><rect x="192.0" y="544.4" width="23.8" height="18" fill="#fff"/><text x="195.0" y="559.0" font-size="16" fill="#111" stroke="#111" stroke-width="0.3">12</text><rect x="262.0" y="560.7" width="23.8" height="18" fill="#fff"/><text x="265.0" y="575.3" font-size="16" fill="#111" stroke="#111" stroke-width="0.3">11</text><rect x="192.0" y="577.7" width="23.8" height="18" fill="#fff"/><text x="195.0" y="592.3" font-size="16" fill="#111" stroke="#111" stroke-width="0.3">10</text><rect x="262.0" y="594.0" width="14.9" height="18" fill="#fff"/><text x="265.0" y="608.6" font-size="16" fill="#111" stroke="#111" stroke-width="0.3">9</text><rect x="192.0" y="612.6" width="14.9" height="18" fill="#fff"/><text x="195.0" y="627.2" font-size="16" fill="#111" stroke="#111" stroke-width="0.3">8</text><rect x="262.0" y="628.8" width="14.9" height="18" fill="#fff"/><text x="265.0" y="643.4" font-size="16" fill="#111" stroke="#111" stroke-width="0.3">7</text><rect x="192.0" y="644.6" width="14.9" height="18" fill="#fff"/><text x="195.0" y="659.2" font-size="16" fill="#111" stroke="#111" stroke-width="0.3">6</text><rect x="262.0" y="660.7" width="14.9" height="18" fill="#fff"/><text x="265.0" y="675.3" font-size="16" fill="#111" stroke="#111" stroke-width="0.3">5</text><rect x="192.0" y="677.3" width="14.9" height="18" fill="#fff"/><text x="195.0" y="691.9" font-size="16" fill="#111" stroke="#111" stroke-width="0.3">4</text><rect x="262.0" y="692.7" width="14.9" height="18" fill="#fff"/><text x="265.0" y="707.3" font-size="16" fill="#111" stroke="#111" stroke-width="0.3">3</text><rect x="192.0" y="709.4" width="14.9" height="18" fill="#fff"/><text x="195.0" y="724.0" font-size="16" fill="#111" stroke="#111" stroke-width="0.3">2</text>
<rect x="159.70" y="220.50" width="762.80" height="529.50" fill="none" stroke="#444" stroke-width="1.6"/>
<line x1="146" y1="750.00" x2="159.70" y2="750.00" stroke="#707070" stroke-width="1.3"/><text x="124" y="756.00" font-size="16" fill="#1a1a1a" stroke="#1a1a1a" stroke-width="0.3" text-anchor="middle">0</text><line x1="152.5" y1="725.93" x2="159.70" y2="725.93" stroke="#707070" stroke-width="1.3"/><line x1="146" y1="701.86" x2="159.70" y2="701.86" stroke="#707070" stroke-width="1.3"/><text x="124" y="707.86" font-size="16" fill="#1a1a1a" stroke="#1a1a1a" stroke-width="0.3" text-anchor="middle">20</text><line x1="152.5" y1="677.80" x2="159.70" y2="677.80" stroke="#707070" stroke-width="1.3"/><line x1="146" y1="653.73" x2="159.70" y2="653.73" stroke="#707070" stroke-width="1.3"/><text x="124" y="659.73" font-size="16" fill="#1a1a1a" stroke="#1a1a1a" stroke-width="0.3" text-anchor="middle">40</text><line x1="152.5" y1="629.66" x2="159.70" y2="629.66" stroke="#707070" stroke-width="1.3"/><line x1="146" y1="605.59" x2="159.70" y2="605.59" stroke="#707070" stroke-width="1.3"/><text x="124" y="611.59" font-size="16" fill="#1a1a1a" stroke="#1a1a1a" stroke-width="0.3" text-anchor="middle">60</text><line x1="152.5" y1="581.52" x2="159.70" y2="581.52" stroke="#707070" stroke-width="1.3"/><line x1="146" y1="557.46" x2="159.70" y2="557.46" stroke="#707070" stroke-width="1.3"/><text x="124" y="563.46" font-size="16" fill="#1a1a1a" stroke="#1a1a1a" stroke-width="0.3" text-anchor="middle">80</text><line x1="152.5" y1="533.39" x2="159.70" y2="533.39" stroke="#707070" stroke-width="1.3"/><line x1="146" y1="509.32" x2="159.70" y2="509.32" stroke="#707070" stroke-width="1.3"/><text x="124" y="515.32" font-size="16" fill="#1a1a1a" stroke="#1a1a1a" stroke-width="0.3" text-anchor="middle">100</text><line x1="152.5" y1="485.25" x2="159.70" y2="485.25" stroke="#707070" stroke-width="1.3"/><line x1="146" y1="461.18" x2="159.70" y2="461.18" stroke="#707070" stroke-width="1.3"/><text x="124" y="467.18" font-size="16" fill="#1a1a1a" stroke="#1a1a1a" stroke-width="0.3" text-anchor="middle">120</text><line x1="152.5" y1="437.12" x2="159.70" y2="437.12" stroke="#707070" stroke-width="1.3"/><line x1="146" y1="413.05" x2="159.70" y2="413.05" stroke="#707070" stroke-width="1.3"/><text x="124" y="419.05" font-size="16" fill="#1a1a1a" stroke="#1a1a1a" stroke-width="0.3" text-anchor="middle">140</text><line x1="152.5" y1="388.98" x2="159.70" y2="388.98" stroke="#707070" stroke-width="1.3"/><line x1="146" y1="364.91" x2="159.70" y2="364.91" stroke="#707070" stroke-width="1.3"/><text x="124" y="370.91" font-size="16" fill="#1a1a1a" stroke="#1a1a1a" stroke-width="0.3" text-anchor="middle">160</text><line x1="152.5" y1="340.84" x2="159.70" y2="340.84" stroke="#707070" stroke-width="1.3"/><line x1="146" y1="316.78" x2="159.70" y2="316.78" stroke="#707070" stroke-width="1.3"/><text x="124" y="322.78" font-size="16" fill="#1a1a1a" stroke="#1a1a1a" stroke-width="0.3" text-anchor="middle">180</text><line x1="152.5" y1="292.71" x2="159.70" y2="292.71" stroke="#707070" stroke-width="1.3"/><line x1="146" y1="268.64" x2="159.70" y2="268.64" stroke="#707070" stroke-width="1.3"/><text x="124" y="274.64" font-size="16" fill="#1a1a1a" stroke="#1a1a1a" stroke-width="0.3" text-anchor="middle">200</text><line x1="152.5" y1="244.57" x2="159.70" y2="244.57" stroke="#707070" stroke-width="1.3"/><line x1="146" y1="220.50" x2="159.70" y2="220.50" stroke="#707070" stroke-width="1.3"/><line x1="93.5" y1="217.5" x2="93.5" y2="750.6" stroke="#707070" stroke-width="1.3"/><line x1="79" y1="750.00" x2="93.5" y2="750.00" stroke="#707070" stroke-width="1.3"/><text x="68.5" y="756.00" font-size="16" fill="#1a1a1a" stroke="#1a1a1a" stroke-width="0.3" text-anchor="end">0</text><line x1="86.4" y1="725.45" x2="93.5" y2="725.45" stroke="#707070" stroke-width="1.3"/><line x1="86.4" y1="700.90" x2="93.5" y2="700.90" stroke="#707070" stroke-width="1.3"/><line x1="86.4" y1="676.35" x2="93.5" y2="676.35" stroke="#707070" stroke-width="1.3"/><line x1="79" y1="651.80" x2="93.5" y2="651.80" stroke="#707070" stroke-width="1.3"/><text x="68.5" y="657.80" font-size="16" fill="#1a1a1a" stroke="#1a1a1a" stroke-width="0.3" text-anchor="end">400</text><line x1="86.4" y1="627.25" x2="93.5" y2="627.25" stroke="#707070" stroke-width="1.3"/><line x1="86.4" y1="602.70" x2="93.5" y2="602.70" stroke="#707070" stroke-width="1.3"/><line x1="86.4" y1="578.15" x2="93.5" y2="578.15" stroke="#707070" stroke-width="1.3"/><line x1="79" y1="553.60" x2="93.5" y2="553.60" stroke="#707070" stroke-width="1.3"/><text x="68.5" y="559.60" font-size="16" fill="#1a1a1a" stroke="#1a1a1a" stroke-width="0.3" text-anchor="end">800</text><line x1="86.4" y1="529.05" x2="93.5" y2="529.05" stroke="#707070" stroke-width="1.3"/><line x1="86.4" y1="504.50" x2="93.5" y2="504.50" stroke="#707070" stroke-width="1.3"/><line x1="86.4" y1="479.95" x2="93.5" y2="479.95" stroke="#707070" stroke-width="1.3"/><line x1="79" y1="455.40" x2="93.5" y2="455.40" stroke="#707070" stroke-width="1.3"/><text x="68.5" y="461.40" font-size="16" fill="#1a1a1a" stroke="#1a1a1a" stroke-width="0.3" text-anchor="end">1200</text><line x1="86.4" y1="430.85" x2="93.5" y2="430.85" stroke="#707070" stroke-width="1.3"/><line x1="86.4" y1="406.30" x2="93.5" y2="406.30" stroke="#707070" stroke-width="1.3"/><line x1="86.4" y1="381.75" x2="93.5" y2="381.75" stroke="#707070" stroke-width="1.3"/><line x1="79" y1="357.20" x2="93.5" y2="357.20" stroke="#707070" stroke-width="1.3"/><text x="68.5" y="363.20" font-size="16" fill="#1a1a1a" stroke="#1a1a1a" stroke-width="0.3" text-anchor="end">1600</text><line x1="86.4" y1="332.65" x2="93.5" y2="332.65" stroke="#707070" stroke-width="1.3"/><line x1="86.4" y1="308.10" x2="93.5" y2="308.10" stroke="#707070" stroke-width="1.3"/><line x1="86.4" y1="283.55" x2="93.5" y2="283.55" stroke="#707070" stroke-width="1.3"/><line x1="79" y1="259.00" x2="93.5" y2="259.00" stroke="#707070" stroke-width="1.3"/><text x="68.5" y="266.50" font-size="16" fill="#1a1a1a" stroke="#1a1a1a" stroke-width="0.3" text-anchor="end">2000</text><line x1="86.4" y1="234.45" x2="93.5" y2="234.45" stroke="#707070" stroke-width="1.3"/><text x="51.5" y="223.5" font-size="16" fill="#1a1a1a" stroke="#1a1a1a" stroke-width="0.3" text-anchor="middle">P</text><text x="51.3" y="242.5" font-size="16" fill="#1a1a1a" stroke="#1a1a1a" stroke-width="0.3" text-anchor="middle">[kPa]</text><text x="123" y="223.5" font-size="16" fill="#1a1a1a" stroke="#1a1a1a" stroke-width="0.3" text-anchor="middle">H</text><text x="123" y="242.5" font-size="16" fill="#1a1a1a" stroke="#1a1a1a" stroke-width="0.3" text-anchor="middle">[m]</text><line x1="146" y1="750.00" x2="922.50" y2="750.00" stroke="#444" stroke-width="1.6"/><line x1="159.70" y1="750.00" x2="159.70" y2="762.5" stroke="#707070" stroke-width="1.3"/><text x="159.70" y="783.3" font-size="16" fill="#1a1a1a" stroke="#1a1a1a" stroke-width="0.3" text-anchor="middle">0</text><line x1="197.84" y1="750.00" x2="197.84" y2="757" stroke="#707070" stroke-width="1.3"/><line x1="235.98" y1="750.00" x2="235.98" y2="762.5" stroke="#707070" stroke-width="1.3"/><text x="235.98" y="783.3" font-size="16" fill="#1a1a1a" stroke="#1a1a1a" stroke-width="0.3" text-anchor="middle">1</text><line x1="274.12" y1="750.00" x2="274.12" y2="757" stroke="#707070" stroke-width="1.3"/><line x1="312.26" y1="750.00" x2="312.26" y2="762.5" stroke="#707070" stroke-width="1.3"/><text x="312.26" y="783.3" font-size="16" fill="#1a1a1a" stroke="#1a1a1a" stroke-width="0.3" text-anchor="middle">2</text><line x1="350.40" y1="750.00" x2="350.40" y2="757" stroke="#707070" stroke-width="1.3"/><line x1="388.54" y1="750.00" x2="388.54" y2="762.5" stroke="#707070" stroke-width="1.3"/><text x="388.54" y="783.3" font-size="16" fill="#1a1a1a" stroke="#1a1a1a" stroke-width="0.3" text-anchor="middle">3</text><line x1="426.68" y1="750.00" x2="426.68" y2="757" stroke="#707070" stroke-width="1.3"/><line x1="464.82" y1="750.00" x2="464.82" y2="762.5" stroke="#707070" stroke-width="1.3"/><text x="464.82" y="783.3" font-size="16" fill="#1a1a1a" stroke="#1a1a1a" stroke-width="0.3" text-anchor="middle">4</text><line x1="502.96" y1="750.00" x2="502.96" y2="757" stroke="#707070" stroke-width="1.3"/><line x1="541.10" y1="750.00" x2="541.10" y2="762.5" stroke="#707070" stroke-width="1.3"/><text x="541.10" y="783.3" font-size="16" fill="#1a1a1a" stroke="#1a1a1a" stroke-width="0.3" text-anchor="middle">5</text><line x1="579.24" y1="750.00" x2="579.24" y2="757" stroke="#707070" stroke-width="1.3"/><line x1="617.38" y1="750.00" x2="617.38" y2="762.5" stroke="#707070" stroke-width="1.3"/><text x="617.38" y="783.3" font-size="16" fill="#1a1a1a" stroke="#1a1a1a" stroke-width="0.3" text-anchor="middle">6</text><line x1="655.52" y1="750.00" x2="655.52" y2="757" stroke="#707070" stroke-width="1.3"/><line x1="693.66" y1="750.00" x2="693.66" y2="762.5" stroke="#707070" stroke-width="1.3"/><text x="693.66" y="783.3" font-size="16" fill="#1a1a1a" stroke="#1a1a1a" stroke-width="0.3" text-anchor="middle">7</text><line x1="731.80" y1="750.00" x2="731.80" y2="757" stroke="#707070" stroke-width="1.3"/><line x1="769.94" y1="750.00" x2="769.94" y2="762.5" stroke="#707070" stroke-width="1.3"/><text x="769.94" y="783.3" font-size="16" fill="#1a1a1a" stroke="#1a1a1a" stroke-width="0.3" text-anchor="middle">8</text><line x1="808.08" y1="750.00" x2="808.08" y2="757" stroke="#707070" stroke-width="1.3"/><line x1="846.22" y1="750.00" x2="846.22" y2="762.5" stroke="#707070" stroke-width="1.3"/><line x1="884.36" y1="750.00" x2="884.36" y2="757" stroke="#707070" stroke-width="1.3"/><line x1="922.50" y1="750.00" x2="922.50" y2="762.5" stroke="#707070" stroke-width="1.3"/><text x="882" y="785" font-size="16.5" fill="#222" textLength="62.5" lengthAdjust="spacingAndGlyphs">Q (м³/ч)</text><line x1="159.70" y1="805.5" x2="922.50" y2="805.5" stroke="#707070" stroke-width="1.3"/><line x1="159.70" y1="805.5" x2="159.70" y2="820" stroke="#707070" stroke-width="1.3"/><text x="159.70" y="843.3" font-size="16" fill="#1a1a1a" stroke="#1a1a1a" stroke-width="0.3" text-anchor="middle">0</text><line x1="187.16" y1="805.5" x2="187.16" y2="812" stroke="#707070" stroke-width="1.3"/><line x1="214.62" y1="805.5" x2="214.62" y2="812" stroke="#707070" stroke-width="1.3"/><line x1="242.08" y1="805.5" x2="242.08" y2="812" stroke="#707070" stroke-width="1.3"/><line x1="269.54" y1="805.5" x2="269.54" y2="812" stroke="#707070" stroke-width="1.3"/><line x1="297.00" y1="805.5" x2="297.00" y2="820" stroke="#707070" stroke-width="1.3"/><text x="297.00" y="843.3" font-size="16" fill="#1a1a1a" stroke="#1a1a1a" stroke-width="0.3" text-anchor="middle">0.5</text><line x1="324.46" y1="805.5" x2="324.46" y2="812" stroke="#707070" stroke-width="1.3"/><line x1="351.93" y1="805.5" x2="351.93" y2="812" stroke="#707070" stroke-width="1.3"/><line x1="379.39" y1="805.5" x2="379.39" y2="812" stroke="#707070" stroke-width="1.3"/><line x1="406.85" y1="805.5" x2="406.85" y2="812" stroke="#707070" stroke-width="1.3"/><line x1="434.31" y1="805.5" x2="434.31" y2="820" stroke="#707070" stroke-width="1.3"/><text x="434.31" y="843.3" font-size="16" fill="#1a1a1a" stroke="#1a1a1a" stroke-width="0.3" text-anchor="middle">1.0</text><line x1="461.77" y1="805.5" x2="461.77" y2="812" stroke="#707070" stroke-width="1.3"/><line x1="489.23" y1="805.5" x2="489.23" y2="812" stroke="#707070" stroke-width="1.3"/><line x1="516.69" y1="805.5" x2="516.69" y2="812" stroke="#707070" stroke-width="1.3"/><line x1="544.15" y1="805.5" x2="544.15" y2="812" stroke="#707070" stroke-width="1.3"/><line x1="571.61" y1="805.5" x2="571.61" y2="820" stroke="#707070" stroke-width="1.3"/><text x="571.61" y="843.3" font-size="16" fill="#1a1a1a" stroke="#1a1a1a" stroke-width="0.3" text-anchor="middle">1.5</text><line x1="599.07" y1="805.5" x2="599.07" y2="812" stroke="#707070" stroke-width="1.3"/><line x1="626.53" y1="805.5" x2="626.53" y2="812" stroke="#707070" stroke-width="1.3"/><line x1="653.99" y1="805.5" x2="653.99" y2="812" stroke="#707070" stroke-width="1.3"/><line x1="681.46" y1="805.5" x2="681.46" y2="812" stroke="#707070" stroke-width="1.3"/><line x1="708.92" y1="805.5" x2="708.92" y2="820" stroke="#707070" stroke-width="1.3"/><text x="708.92" y="843.3" font-size="16" fill="#1a1a1a" stroke="#1a1a1a" stroke-width="0.3" text-anchor="middle">2.0</text><line x1="736.38" y1="805.5" x2="736.38" y2="812" stroke="#707070" stroke-width="1.3"/><line x1="763.84" y1="805.5" x2="763.84" y2="812" stroke="#707070" stroke-width="1.3"/><line x1="791.30" y1="805.5" x2="791.30" y2="812" stroke="#707070" stroke-width="1.3"/><line x1="818.76" y1="805.5" x2="818.76" y2="812" stroke="#707070" stroke-width="1.3"/><line x1="846.22" y1="805.5" x2="846.22" y2="820" stroke="#707070" stroke-width="1.3"/><text x="846.22" y="843.3" font-size="16" fill="#1a1a1a" stroke="#1a1a1a" stroke-width="0.3" text-anchor="middle">2.5</text><line x1="873.68" y1="805.5" x2="873.68" y2="812" stroke="#707070" stroke-width="1.3"/><line x1="901.14" y1="805.5" x2="901.14" y2="812" stroke="#707070" stroke-width="1.3"/><text x="882" y="844" font-size="16.5" fill="#222" textLength="54.5" lengthAdjust="spacingAndGlyphs">Q (л/с)</text>
<g style="mix-blend-mode:multiply"><circle cx="795.2" cy="795.6" r="158" fill="#fdf3cb"/><circle cx="795.2" cy="795.6" r="154" fill="#dadada"/><path d="M795.20,687.60 A108,108 0 0 0 795.20,903.60 Z" fill="#fdf3cb"/><path d="M795.20,687.10 A108.5,108.5 0 0 1 795.20,904.10 Z" fill="#d5d5d7"/><path d="M795.20,696.10 A99.5,99.5 0 0 0 795.20,895.10 Z" fill="#dadada"/><path d="M795.20,697.10 A98.5,98.5 0 0 1 795.20,894.10 Z" fill="#fdf3cb"/><path d="M713.2,751.2 L764,751.2 Q784.8,751.2 784.8,776 Q784.8,795 773,802 L787.5,840.8 L756,840.8 L745.8,790 Q754,790 754,781 Q754,773.8 747,773.8 L740.7,773.8 L740.7,840.8 L713.2,840.8 Z" fill="#fdf3cb"/><path d="M804.3,751 L873.1,751 L873.1,774.4 L851.3,774.4 L851.3,840.8 L825,840.8 L825,774.4 L804.3,774.4 Z" fill="#dadada"/><path id="arcTop" d="M687.79,743.21 A119.5,119.5 0 0 1 902.61,743.21" fill="none"/><path id="arcBot" d="M904.61,839.80 A118,118 0 0 1 684.32,835.96" fill="none"/><text font-size="31" font-weight="bold" fill="#f7eba8" stroke="#f7eba8" stroke-width="0.5"><textPath href="#arcTop" startOffset="50%" text-anchor="middle" textLength="248.2" lengthAdjust="spacingAndGlyphs">WWW.RT.CO.UA</textPath></text><text font-size="41" font-weight="bold" fill="#f7eba8" stroke="#f7eba8" stroke-width="0.5"><textPath href="#arcBot" startOffset="50%" text-anchor="middle" textLength="276.0" lengthAdjust="spacingAndGlyphs">интернет магазин</textPath></text></g>
</svg></body></html>
